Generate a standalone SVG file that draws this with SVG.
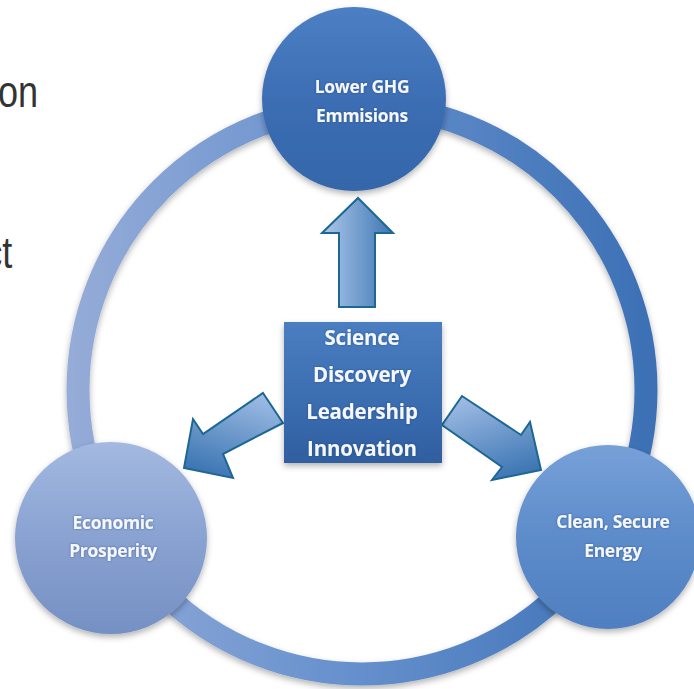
<svg xmlns="http://www.w3.org/2000/svg" width="694" height="689" viewBox="0 0 694 689">
<defs>
<linearGradient id="ringG" x1="66" y1="0" x2="660" y2="0" gradientUnits="userSpaceOnUse">
<stop offset="0" stop-color="#96acd8"/>
<stop offset="0.45" stop-color="#6892ce"/>
<stop offset="1" stop-color="#3b6fb4"/>
</linearGradient>
<linearGradient id="topG" x1="0" y1="0" x2="0" y2="1">
<stop offset="0" stop-color="#4c7fc3"/>
<stop offset="0.5" stop-color="#3c6eb4"/>
<stop offset="1" stop-color="#3466aa"/>
</linearGradient>
<linearGradient id="leftG" x1="0" y1="0" x2="0" y2="1">
<stop offset="0" stop-color="#a3b9e1"/>
<stop offset="0.5" stop-color="#89a2d1"/>
<stop offset="1" stop-color="#7590c4"/>
</linearGradient>
<linearGradient id="rightG" x1="0" y1="0" x2="0" y2="1">
<stop offset="0" stop-color="#77a0d8"/>
<stop offset="0.5" stop-color="#5d8cca"/>
<stop offset="1" stop-color="#4f7fc0"/>
</linearGradient>
<linearGradient id="boxG" x1="0" y1="0" x2="0" y2="1">
<stop offset="0" stop-color="#4a7ec0"/>
<stop offset="0.6" stop-color="#3a6cb0"/>
<stop offset="1" stop-color="#2f5e9f"/>
</linearGradient>
<linearGradient id="upG" x1="0" y1="0" x2="1" y2="0">
<stop offset="0" stop-color="#aec8ea"/>
<stop offset="1" stop-color="#3d76b3"/>
</linearGradient>
<linearGradient id="lG" x1="0.7" y1="0" x2="0.3" y2="1">
<stop offset="0" stop-color="#9dbbe3"/>
<stop offset="1" stop-color="#3a74b2"/>
</linearGradient>
<linearGradient id="rG" x1="0.3" y1="0" x2="0.7" y2="1">
<stop offset="0" stop-color="#9dbbe3"/>
<stop offset="1" stop-color="#3a74b2"/>
</linearGradient>
<filter id="sh" x="-20%" y="-20%" width="140%" height="140%">
<feDropShadow dx="0" dy="3" stdDeviation="3" flood-color="#000" flood-opacity="0.3"/>
</filter>
<filter id="tg" x="-10%" y="-30%" width="120%" height="160%">
<feDropShadow dx="0" dy="0" stdDeviation="1.2" flood-color="#1a3a70" flood-opacity="0.6"/>
</filter>
</defs>
<style>
.lbl{font-family:"Open Sans",Lato,"Liberation Sans",sans-serif;font-weight:bold;fill:#f4f7fc;text-anchor:middle;filter:url(#tg)}
.c{font-size:17.5px;letter-spacing:-0.3px}
.b{font-size:20.5px;letter-spacing:-0.2px}
.side{font-family:"Liberation Sans Narrow","Liberation Sans",sans-serif;font-size:44px;fill:#333333;text-anchor:end}
.arr{stroke:#1d6794;stroke-width:2;stroke-linejoin:miter}
</style>
<text class="side" x="38" y="107" transform="translate(7 0) scale(0.82 1)">on</text>
<text class="side" x="15" y="268" transform="scale(0.82 1)">ct</text>
<g id="connectors">
<circle cx="362" cy="390" r="284" fill="none" stroke="url(#ringG)" stroke-width="23" filter="url(#sh)"/>
<polygon class="arr" fill="url(#upG)" points="358,198 393,233 375,233 375,307 339,307 339,233 322,233"/>
<polygon class="arr" fill="url(#lG)" points="263,393 283,423 223,454 233,478 184,468 193,419 203,434"/>
<polygon class="arr" fill="url(#rG)" points="462,396 442,425 502,467 492,480 541,470 530,422 521,435"/>
</g>
<g id="top">
<circle cx="354" cy="99" r="92" fill="url(#topG)" filter="url(#sh)"/>
<text class="lbl c" x="362" y="93">Lower GHG</text>
<text class="lbl c" x="362" y="122">Emmisions</text>
</g>
<g id="left">
<circle cx="111" cy="538" r="96" fill="url(#leftG)" filter="url(#sh)"/>
<text class="lbl c" x="113" y="529">Economic</text>
<text class="lbl c" x="113" y="557">Prosperity</text>
</g>
<g id="right">
<circle cx="608" cy="537" r="92" fill="url(#rightG)" filter="url(#sh)"/>
<text class="lbl c" x="613" y="528">Clean, Secure</text>
<text class="lbl c" x="613" y="557">Energy</text>
</g>
<g id="center">
<rect x="284" y="322" width="158" height="141" fill="url(#boxG)" filter="url(#sh)"/>
<text class="lbl b" x="362" y="345">Science</text>
<text class="lbl b" x="362" y="382">Discovery</text>
<text class="lbl b" x="362" y="419">Leadership</text>
<text class="lbl b" x="362" y="456">Innovation</text>
</g>
</svg>
